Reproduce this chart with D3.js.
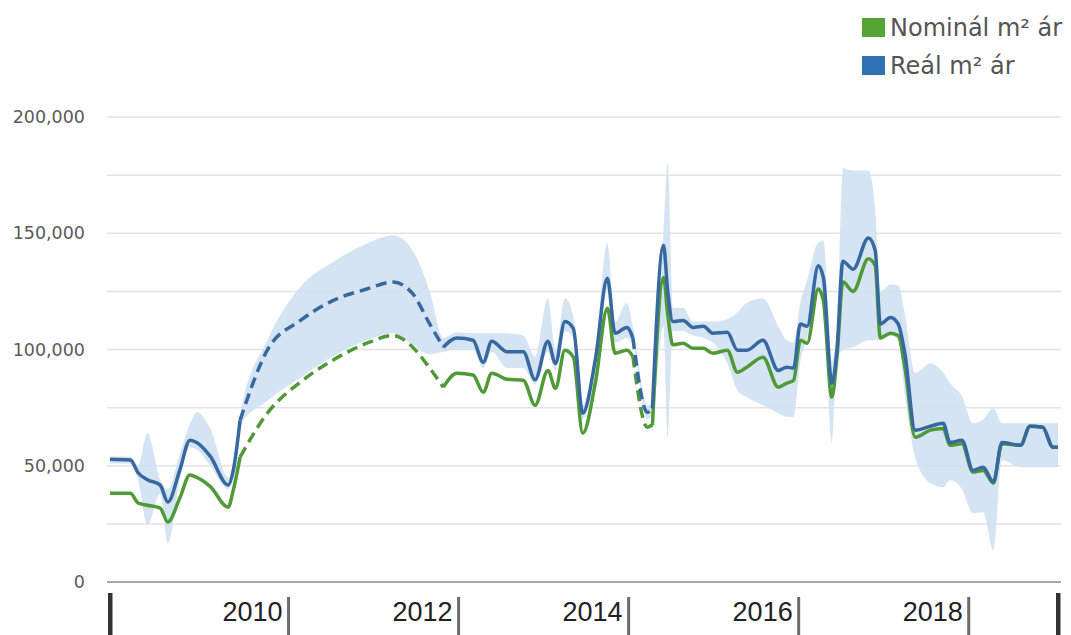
<!DOCTYPE html>
<html>
<head>
<meta charset="utf-8">
<script src="https://cdn.jsdelivr.net/npm/d3@7"></script>
<style>
  body { margin: 0; background: #fff; }
  svg { display: block; }
</style>
</head>
<body>
<svg id="chart" width="1071" height="635"></svg>
<script>
// values in thousand HUF / m2
const years = [2007.90, 2008.14, 2008.23, 2008.34, 2008.49, 2008.58, 2008.72, 2008.84, 2008.92, 2009.08,
  2009.29, 2009.35, 2009.43, 2009.75, 2010.14, 2010.52, 2010.92, 2011.23, 2011.46, 2011.66,
  2011.82, 2011.98, 2012.17, 2012.29, 2012.39, 2012.57, 2012.76, 2012.90, 2013.05, 2013.14,
  2013.25, 2013.35, 2013.46, 2013.61, 2013.75, 2013.84, 2013.98, 2014.05, 2014.22, 2014.28,
  2014.41, 2014.46, 2014.52, 2014.64, 2014.76, 2014.88, 2014.99, 2015.16, 2015.28, 2015.39,
  2015.58, 2015.76, 2015.86, 2015.94, 2016.02, 2016.10, 2016.23, 2016.29, 2016.39, 2016.45,
  2016.52, 2016.64, 2016.82, 2016.90, 2016.96, 2017.08, 2017.17, 2017.25, 2017.37, 2017.55,
  2017.70, 2017.78, 2017.92, 2018.05, 2018.17, 2018.29, 2018.39, 2018.61, 2018.72, 2018.87,
  2018.99, 2019.05];

const realPrice = [52.8, 52.5, 47, 44, 41.7, 34.4, 48, 61, 60, 54,
  41.7, 48, 69.6, 99.7, 112.5, 121, 126, 129, 124, 111,
  101, 105, 104, 94.5, 103.5, 99, 99, 87, 103.5, 94,
  112, 109, 72.6, 96, 130.6, 107, 109.5, 105, 73, 74.7,
  144.8, 125, 112, 112.5, 109.5, 110, 107, 107.4, 99.7, 99.7,
  104, 91, 92.4, 92, 111, 110, 136, 131, 85.5, 99.7,
  138, 134.5, 148, 142.6, 111, 113.8, 111, 98, 65.3, 67,
  68.3, 60, 61, 48, 49.4, 43, 60, 58.8, 67, 66.6,
  58, 58];

const nominalPrice = [38.2, 38.2, 34, 33, 31.8, 25.8, 36, 46, 45, 41,
  32.2, 39.5, 53.7, 72.6, 86, 95.4, 102.7, 106, 101, 92,
  83.8, 89.8, 89, 81.6, 89.8, 87.2, 86.8, 76, 91, 83.3,
  99.7, 96.7, 64, 86, 117.7, 98.4, 99.7, 97, 66.6, 67.5,
  131, 115, 102, 102.7, 100.5, 100.5, 98.4, 99.7, 90.2, 92.4,
  96.7, 83.8, 85.5, 86.8, 104, 102.7, 126, 121, 79.5, 96.7,
  129, 125, 139, 136, 105, 107, 106, 92, 62.3, 65.3,
  66, 58.8, 59.5, 47.3, 48, 42.5, 59.5, 58.8, 67, 66.6,
  58, 58];

const bandLow = [51, 51, 44, 24.5, 38, 16.7, 44, 58, 57, 50,
  40, 46, 67, 78, 88, 97, 104, 107, 102, 98,
  99, 100, 100, 92, 99, 92, 92, 85, 99, 91,
  108, 105, 70, 92, 126, 103, 105, 102, 70, 72,
  110, 62, 108, 108, 106, 105, 103, 94, 82.5, 79.5,
  76, 72.6, 71, 71, 95, 105, 125, 120, 59.7, 95,
  100, 101, 104, 104, 104, 106, 104, 80, 53.7, 42.5,
  40.8, 43.8, 40, 29.6, 30, 13.7, 52.4, 49.4, 49.4, 49.4,
  49.4, 49.4];

const bandHigh = [54, 54, 50, 64, 44, 40, 55, 68, 73, 66,
  45, 50, 72, 104, 127, 137.5, 145.6, 149, 142.6, 125,
  105, 107.4, 107, 107, 107, 107, 106, 97, 122, 100,
  122, 114, 76, 100, 145.6, 112, 120, 110, 76, 77,
  150, 180, 118, 118, 112, 112, 112, 113, 116, 120,
  122, 110, 104, 103, 120, 130, 146, 147, 95, 110,
  178, 177, 177, 160, 125, 128, 127.6, 115, 90, 94,
  90, 85.5, 80, 68.3, 70, 74.7, 68.3, 68.3, 68.3, 68.3,
  68.3, 68.3];

// stretches with no data, drawn dashed
const gaps = [[2009.43, 2011.82], [2014.05, 2014.28]];

const yTicks = [0, 50, 100, 150, 200];
const yGrid = [25, 50, 75, 100, 125, 150, 175, 200];
const xTickYears = [2010, 2012, 2014, 2016, 2018];
const seriesNames = ["Nominál m² ár", "Reál m² ár"];
const seriesColors = ["#55a532", "#2f72b2"];

const svg = d3.select("#chart");

const x = d3.scaleLinear().domain([2007.9, 2019.05]).range([110, 1058]);
const y = d3.scaleLinear().domain([0, 200]).range([582, 117]);

// grid
svg.append("g")
  .selectAll("line")
  .data(yGrid)
  .join("line")
  .attr("x1", 107).attr("x2", 1061)
  .attr("y1", d => y(d)).attr("y2", d => y(d))
  .attr("stroke", "#e3e3e3")
  .attr("stroke-width", 1.5);

// y labels
svg.append("g")
  .selectAll("text")
  .data(yTicks)
  .join("text")
  .attr("x", 85)
  .attr("y", d => y(d))
  .attr("dy", "0.35em")
  .attr("text-anchor", "end")
  .attr("font-family", "DejaVu Sans, sans-serif")
  .attr("font-size", 17.5)
  .attr("fill", "#5a5a5a")
  .text(d => d3.format(",")(d * 1000));

// zero axis
svg.append("line")
  .attr("x1", 107).attr("x2", 1061)
  .attr("y1", y(0)).attr("y2", y(0))
  .attr("stroke", "#a8a8a8")
  .attr("stroke-width", 2);

const idx = d3.range(years.length);
const inGap = t => gaps.some(g => t > g[0] && t < g[1]);

// band
const band = d3.area()
  .x(i => x(years[i]))
  .y0(i => y(bandLow[i]))
  .y1(i => y(bandHigh[i]))
  .curve(d3.curveMonotoneX);

svg.append("path")
  .datum(idx)
  .attr("d", band)
  .attr("fill", "#cfe1f2")
  .attr("opacity", 0.9);

function drawSeries(values, color) {
  const line = d3.line()
    .x(i => x(years[i]))
    .y(i => y(values[i]))
    .curve(d3.curveMonotoneX);

  svg.append("path").datum(idx)
    .attr("d", line.defined(i => !inGap(years[i])))
    .attr("fill", "none")
    .attr("stroke", color)
    .attr("stroke-width", 3.5)
    .attr("stroke-linejoin", "round");

  const pieces = gaps.map(g => idx.filter(i => years[i] >= g[0] && years[i] <= g[1]));
  svg.append("g").selectAll("path")
    .data(pieces)
    .join("path")
    .attr("d", line.defined(() => true))
    .attr("fill", "none")
    .attr("stroke", color)
    .attr("stroke-width", 3.5)
    .attr("stroke-dasharray", "11,6");
}

drawSeries(nominalPrice, "#4f9a36");
drawSeries(realPrice, "#3868a0");

// x axis: year marks below the axis, labels sit left of each mark
const xAxis = svg.append("g");
xAxis.selectAll("rect.tick")
  .data(xTickYears)
  .join("rect")
  .attr("class", "tick")
  .attr("x", d => x(d) - 1.5)
  .attr("y", 597)
  .attr("width", 3)
  .attr("height", 40)
  .attr("fill", "#6b6b6b");

xAxis.selectAll("text")
  .data(xTickYears)
  .join("text")
  .attr("x", d => x(d) - 6)
  .attr("y", 621)
  .attr("text-anchor", "end")
  .attr("font-family", "Liberation Sans, Arial, sans-serif")
  .attr("font-size", 27)
  .attr("fill", "#222")
  .text(d => d);

// ends of the data range
xAxis.selectAll("rect.end")
  .data(x.domain())
  .join("rect")
  .attr("class", "end")
  .attr("x", d => x(d) - 2)
  .attr("y", 593)
  .attr("width", 4.5)
  .attr("height", 44)
  .attr("fill", "#333");

// legend
const legend = svg.append("g").attr("transform", "translate(862,18)");
const item = legend.selectAll("g")
  .data(seriesNames)
  .join("g")
  .attr("transform", (d, i) => `translate(0,${i * 38})`);
item.append("rect")
  .attr("width", 23).attr("height", 19)
  .attr("fill", (d, i) => seriesColors[i]);
item.append("text")
  .attr("x", 28)
  .attr("y", 10)
  .attr("dy", "0.35em")
  .attr("font-family", "DejaVu Sans, sans-serif")
  .attr("font-size", 24)
  .attr("fill", "#555")
  .text(d => d);
</script>
</body>
</html>
